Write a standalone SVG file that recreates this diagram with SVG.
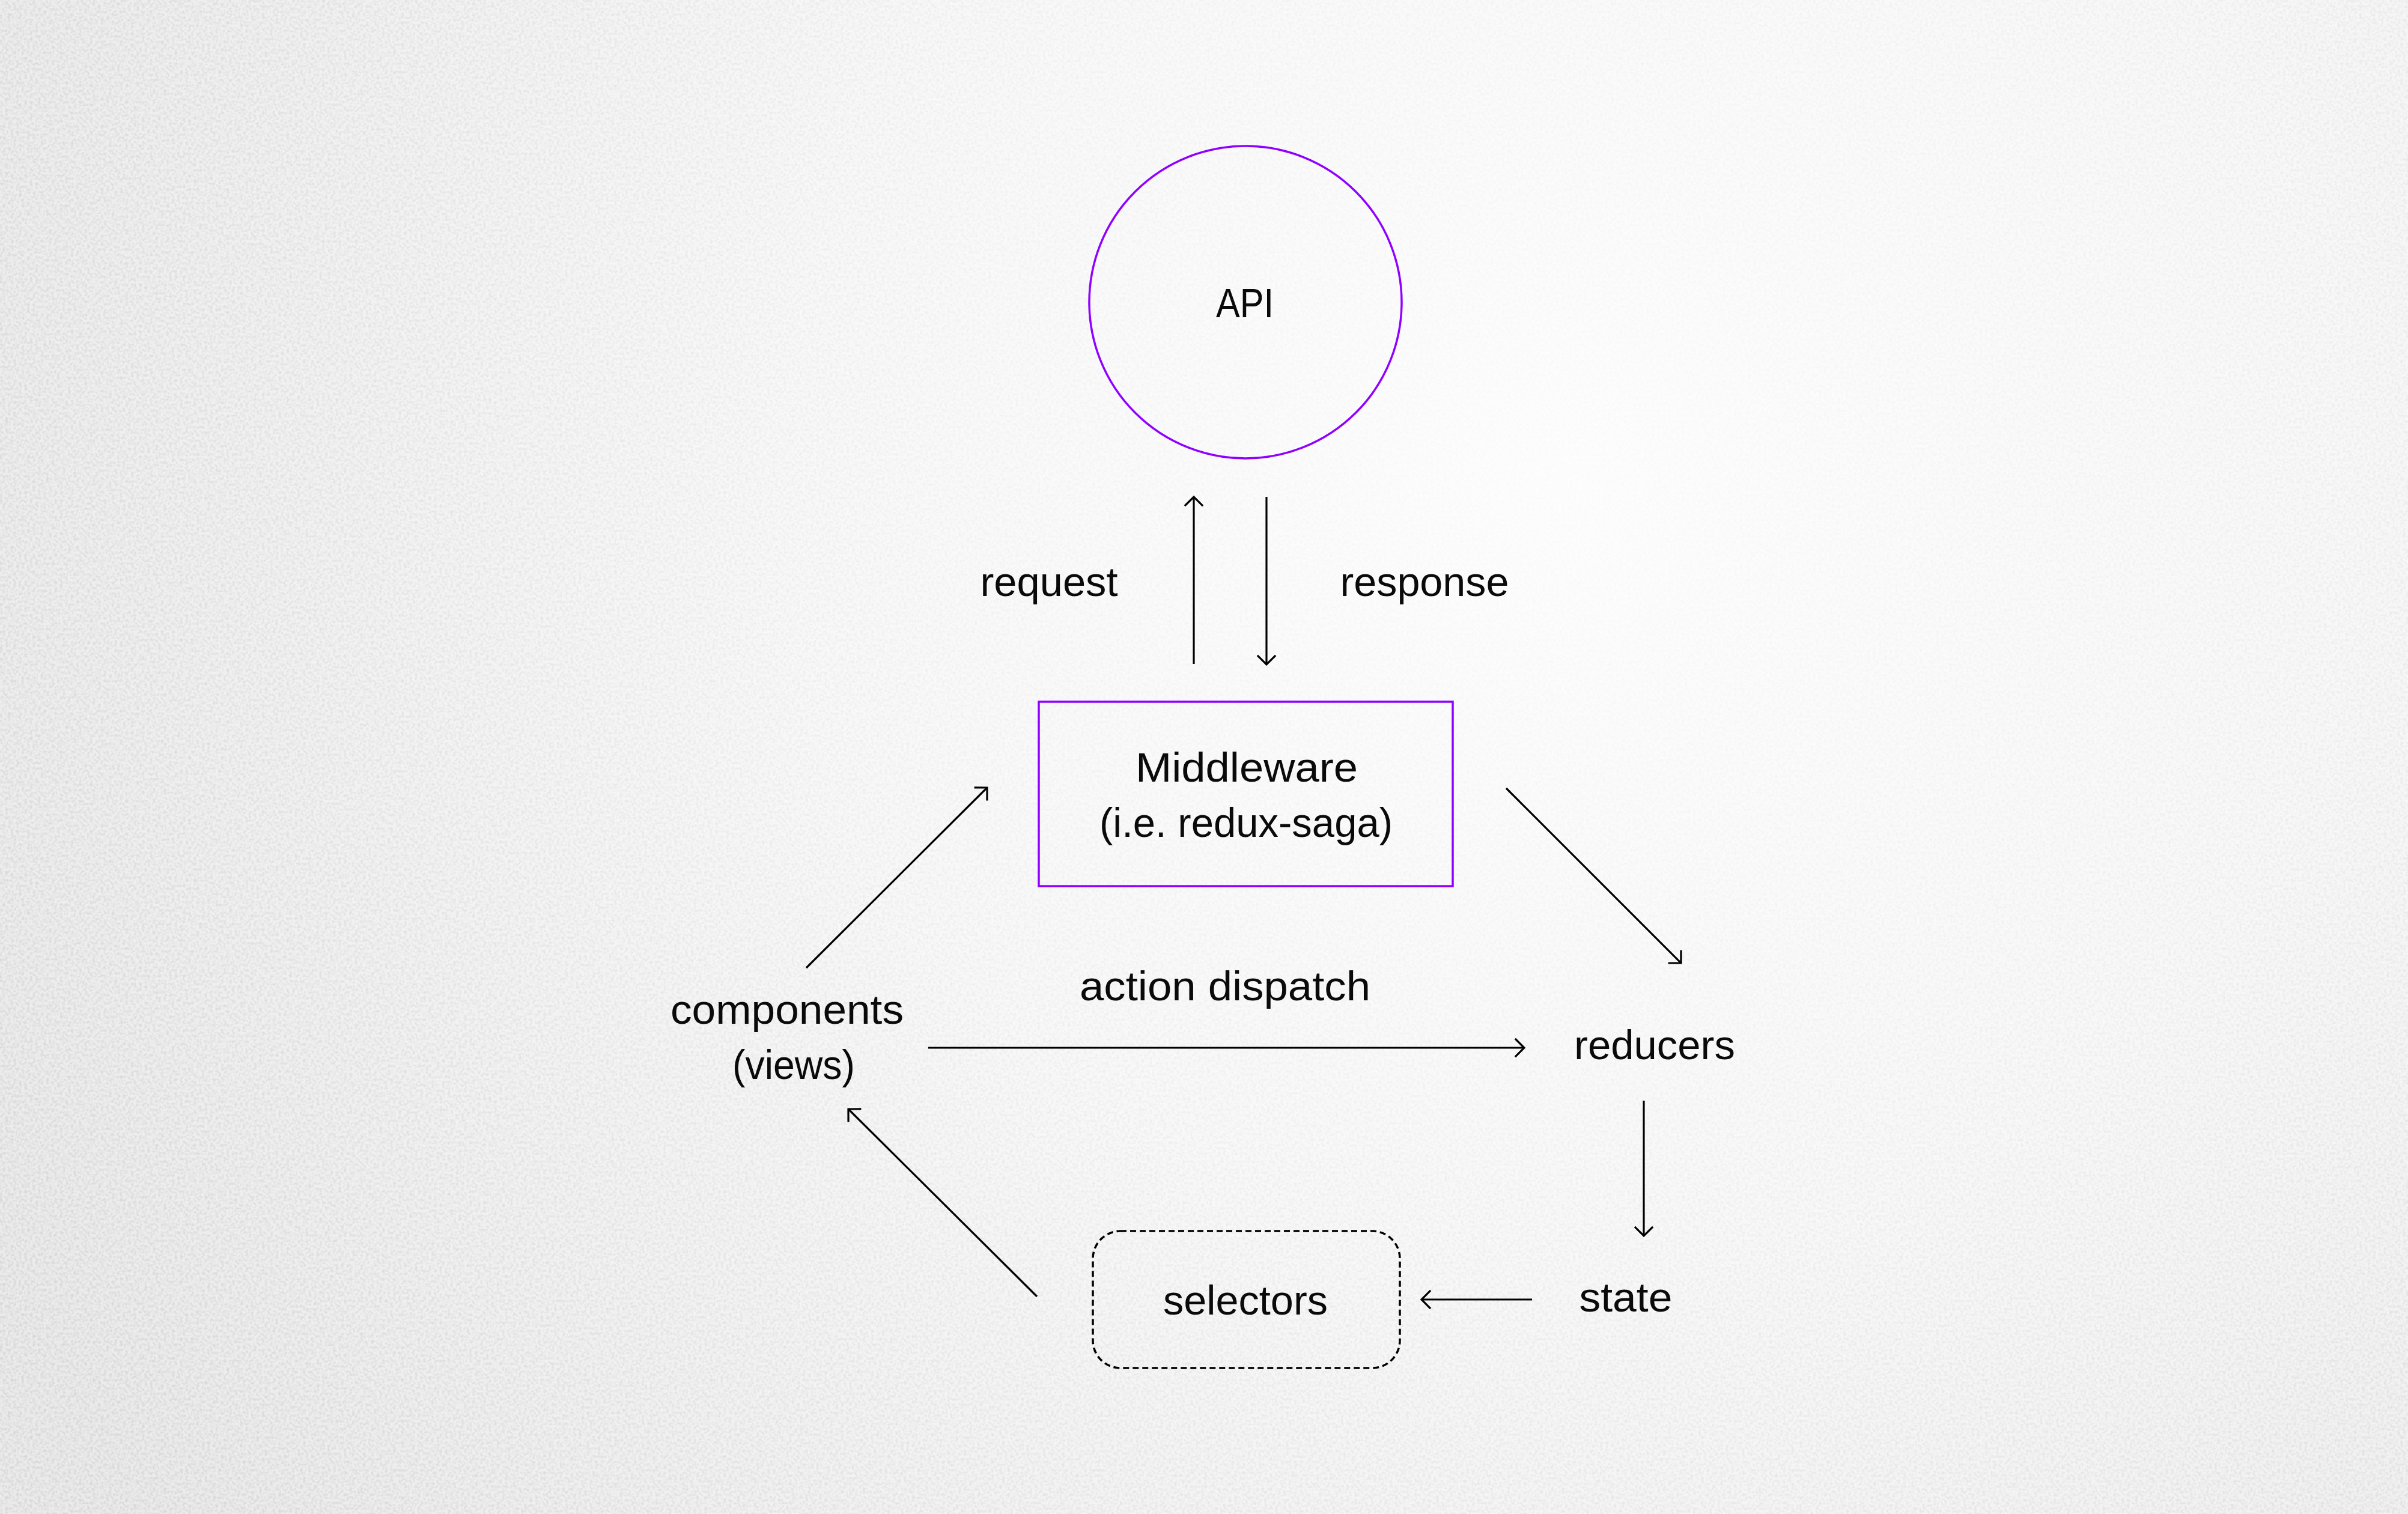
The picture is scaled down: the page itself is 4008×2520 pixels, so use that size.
<svg xmlns="http://www.w3.org/2000/svg" width="4008" height="2520" viewBox="0 0 4008 2520">
  <defs>
    <radialGradient id="bg" cx="2600" cy="800" r="2900" gradientUnits="userSpaceOnUse">
      <stop offset="0" stop-color="#fdfdfd"/>
      <stop offset="0.45" stop-color="#f8f8f8"/>
      <stop offset="1" stop-color="#ebebeb"/>
    </radialGradient>
    <radialGradient id="noiseMaskGrad" cx="2600" cy="800" r="2900" gradientUnits="userSpaceOnUse">
      <stop offset="0" stop-color="#111"/>
      <stop offset="0.35" stop-color="#444"/>
      <stop offset="1" stop-color="#fff"/>
    </radialGradient>
    <mask id="noiseMask">
      <rect width="4008" height="2520" fill="url(#noiseMaskGrad)"/>
    </mask>
    <filter id="noise" x="0" y="0" width="100%" height="100%">
      <feTurbulence type="fractalNoise" baseFrequency="0.22" numOctaves="2" seed="3" result="t"/>
      <feColorMatrix type="matrix" values="0 0 0 0 0.6  0 0 0 0 0.6  0 0 0 0 0.6  0 0 0 -2.6 1.6"/>
    </filter>
    <marker id="arr" markerUnits="userSpaceOnUse" markerWidth="40" markerHeight="40" viewBox="-20 -20 40 40" refX="0" refY="0" orient="auto">
      <path d="M -14 -14 L 0 0 L -14 14" fill="none" stroke="#000" stroke-width="3.2" stroke-linecap="square"/>
    </marker>
    <style>
      .lbl { font-family: "Liberation Sans", Arial, sans-serif; font-size: 68px; fill: #0a0a0a; text-anchor: middle; }
      .conn { stroke: #000; stroke-width: 3.2; fill: none; marker-end: url(#arr); }
      .purple { fill: none; stroke: #8f00ff; stroke-width: 3.5; }
      .dashed { fill: none; stroke: #000; stroke-width: 3.5; stroke-dasharray: 10 6; }
    </style>
  </defs>

  <rect width="4008" height="2520" fill="url(#bg)"/>
  <rect width="4008" height="2520" filter="url(#noise)" mask="url(#noiseMask)" opacity="0.6"/>

  <g id="connectors">
    <line class="conn" x1="1987" y1="1105" x2="1987" y2="827"/>
    <line class="conn" x1="2108" y1="827" x2="2108" y2="1106"/>
    <line class="conn" x1="1342" y1="1611" x2="1643" y2="1311"/>
    <line class="conn" x1="2507" y1="1312" x2="2798" y2="1603"/>
    <line class="conn" x1="1545" y1="1744" x2="2537" y2="1744"/>
    <line class="conn" x1="2736" y1="1832" x2="2736" y2="2057"/>
    <line class="conn" x1="2550" y1="2163" x2="2366" y2="2163"/>
    <line class="conn" x1="1726" y1="2158" x2="1412" y2="1846"/>
    <text class="lbl" x="1746" y="992" textLength="229" lengthAdjust="spacingAndGlyphs">request</text>
    <text class="lbl" x="2371" y="992" textLength="281" lengthAdjust="spacingAndGlyphs">response</text>
    <text class="lbl" x="2039" y="1665" textLength="484" lengthAdjust="spacingAndGlyphs">action dispatch</text>
  </g>

  <g id="api">
    <circle class="purple" cx="2073" cy="503" r="260"/>
    <text class="lbl" x="2072" y="528" textLength="96" lengthAdjust="spacingAndGlyphs">API</text>
  </g>

  <g id="middleware">
    <rect class="purple" x="1729" y="1168" width="689" height="307"/>
    <text class="lbl" x="2075" y="1301" textLength="370" lengthAdjust="spacingAndGlyphs">Middleware</text>
    <text class="lbl" x="2074" y="1393" textLength="488" lengthAdjust="spacingAndGlyphs">(i.e. redux-saga)</text>
  </g>

  <g id="components">
    <text class="lbl" x="1310" y="1704" textLength="388" lengthAdjust="spacingAndGlyphs">components</text>
    <text class="lbl" x="1321" y="1796" textLength="204" lengthAdjust="spacingAndGlyphs">(views)</text>
  </g>

  <g id="reducers">
    <text class="lbl" x="2754" y="1763" textLength="268" lengthAdjust="spacingAndGlyphs">reducers</text>
  </g>

  <g id="state">
    <text class="lbl" x="2706" y="2183" textLength="155" lengthAdjust="spacingAndGlyphs">state</text>
  </g>

  <g id="selectors">
    <rect class="dashed" x="1819" y="2049" width="511" height="228" rx="46" ry="46"/>
    <text class="lbl" x="2073" y="2188" textLength="274" lengthAdjust="spacingAndGlyphs">selectors</text>
  </g>
</svg>
